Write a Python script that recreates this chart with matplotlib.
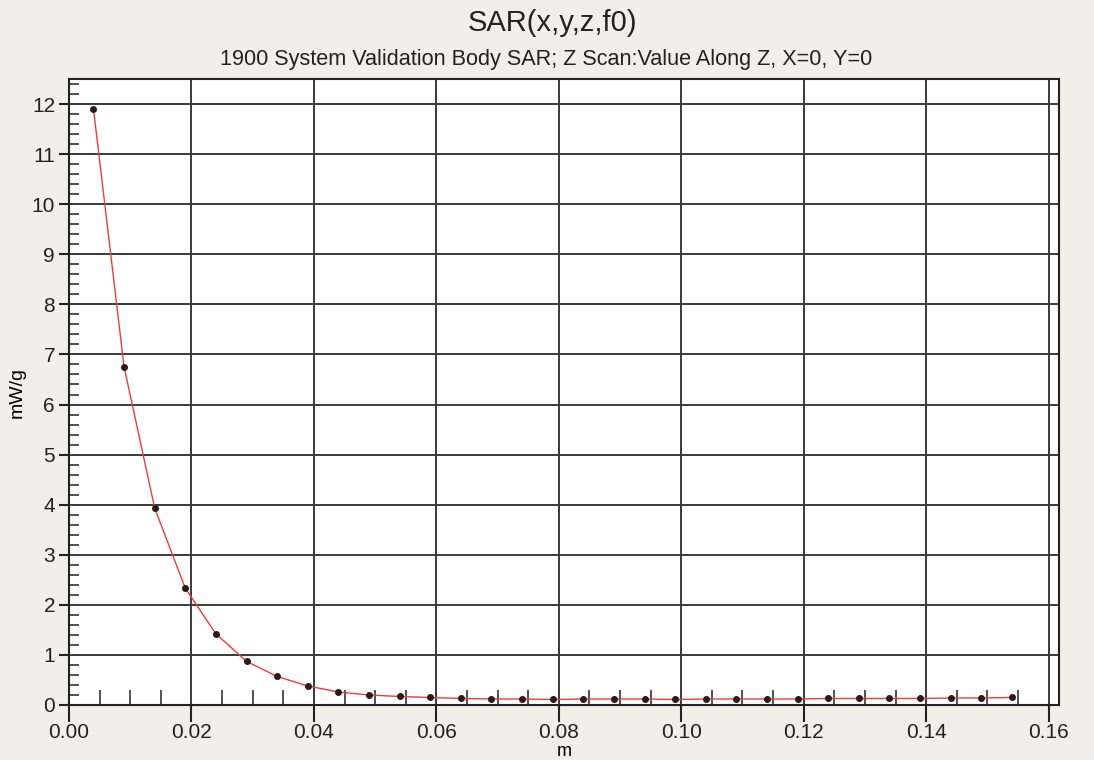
import matplotlib
matplotlib.use("Agg")
import matplotlib.pyplot as plt
from matplotlib.ticker import MultipleLocator

plt.rcParams["font.family"] = ["Liberation Sans", "DejaVu Sans"]

# Z scan positions (m) and SAR values (mW/g)
z_pos = [0.004, 0.009, 0.014, 0.019, 0.024, 0.029, 0.034, 0.039, 0.044, 0.049,
         0.054, 0.059, 0.064, 0.069, 0.074, 0.079, 0.084, 0.089, 0.094, 0.099,
         0.104, 0.109, 0.114, 0.119, 0.124, 0.129, 0.134, 0.139, 0.144, 0.149,
         0.154]
sar = [11.9, 6.75, 3.93, 2.33, 1.42, 0.87, 0.57, 0.38, 0.26, 0.20,
       0.17, 0.15, 0.13, 0.12, 0.12, 0.11, 0.12, 0.12, 0.12, 0.11,
       0.12, 0.12, 0.12, 0.12, 0.13, 0.13, 0.13, 0.13, 0.14, 0.14,
       0.15]

x_ticks = [0.00, 0.02, 0.04, 0.06, 0.08, 0.10, 0.12, 0.14, 0.16]
x_ticklabels = ["0.00", "0.02", "0.04", "0.06", "0.08", "0.10", "0.12", "0.14", "0.16"]
y_ticks = list(range(0, 13))

bg = "#f2eee8"
fig = plt.figure(figsize=(10.94, 7.60), dpi=100, facecolor=bg)
ax = fig.add_axes([69 / 1094, 55 / 760, (1059 - 69) / 1094, (705 - 79) / 760])
ax.set_facecolor("white")

ax.plot(z_pos, sar, color="#ee3b3b", linewidth=1.0, zorder=3)
ax.plot(z_pos, sar, linestyle="none", marker="o", markersize=4,
        color="#2a1a1a", zorder=4)

ax.set_xlim(0, 0.1617)
ax.set_ylim(0, 12.5)

ax.set_xticks(x_ticks)
ax.set_xticklabels(x_ticklabels)
ax.set_yticks(y_ticks)
ax.xaxis.set_minor_locator(MultipleLocator(0.005))
ax.yaxis.set_minor_locator(MultipleLocator(0.2))

ax.tick_params(axis="x", which="major", direction="out", length=12, width=1.5,
               labelsize=15, pad=1, colors="#222222")
ax.tick_params(axis="y", which="major", direction="out", length=7, width=1.5,
               labelsize=15, pad=3, colors="#222222")
ax.tick_params(axis="x", which="minor", direction="in", length=11, width=1.2,
               colors="#333333")
ax.tick_params(axis="y", which="minor", direction="in", length=7, width=1.2,
               colors="#333333")

ax.grid(True, which="major", color="#3a3a3a", linewidth=1.4)
ax.set_axisbelow(True)
for side in ax.spines.values():
    side.set_color("#222222")
    side.set_linewidth(1.5)

ax.set_xlabel("m", fontsize=13, va="bottom")
ax.xaxis.set_label_coords(0.5, -55 / 626)
ax.set_ylabel("mW/g", fontsize=14, labelpad=4)

fig.text(0.505, 0.970, "SAR(x,y,z,f0)", ha="center", va="center",
         fontsize=21, color="#222222")
fig.text(0.499, 0.922, "1900 System Validation Body SAR; Z Scan:Value Along Z, X=0, Y=0",
         ha="center", va="center", fontsize=15.6, color="#222222")

fig.savefig("out.png", dpi=100, facecolor=bg)
